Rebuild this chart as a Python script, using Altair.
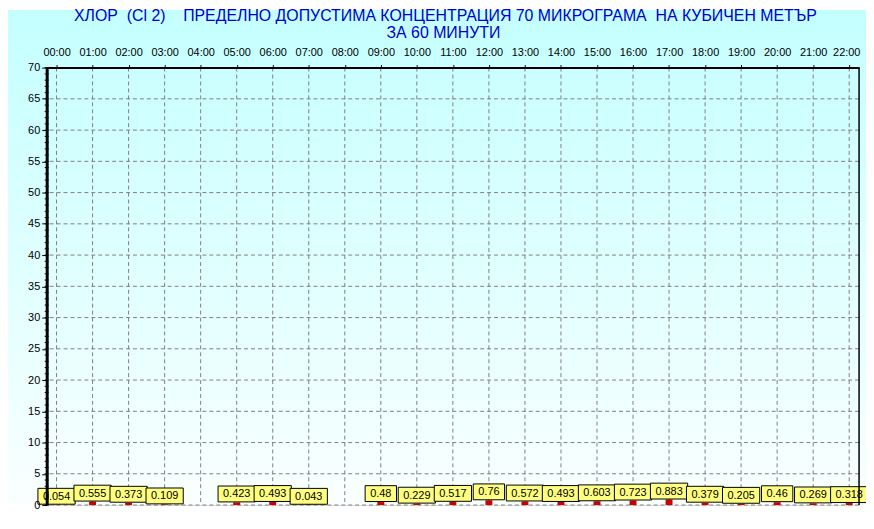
import json
import altair as alt
import pandas as pd

# ---- data ----
hour_labels = ["00:00", "01:00", "02:00", "03:00", "04:00", "05:00", "06:00", "07:00",
               "08:00", "09:00", "10:00", "11:00", "12:00", "13:00", "14:00", "15:00",
               "16:00", "17:00", "18:00", "19:00", "20:00", "21:00", "22:00"]
hours = list(range(len(hour_labels)))
values = [0.054, 0.555, 0.373, 0.109, None, 0.423, 0.493, 0.043, None, 0.48, 0.229,
          0.517, 0.76, 0.572, 0.493, 0.603, 0.723, 0.883, 0.379, 0.205, 0.46, 0.269, 0.318]
y_ticks = list(range(0, 71, 5))
minor_ticks = list(range(0, 71, 1))

title_line1 = "ХЛОР\u00a0\u00a0(Cl 2)\u00a0\u00a0\u00a0\u00a0ПРЕДЕЛНО ДОПУСТИМА КОНЦЕНТРАЦИЯ 70 МИКРОГРАМА\u00a0\u00a0НА КУБИЧЕН МЕТЪР"
title_line2 = "ЗА 60 МИНУТИ"

# ---- layout ----
W, H = 819, 441
XMIN, XMAX = -0.136, 22.136
YMIN, YMAX = 0, 70
PXH = W / (XMAX - XMIN)
PXV = H / (YMAX - YMIN)

rows = [{"hour": h, "value": v, "label": str(v)} for h, v in zip(hours, values) if v is not None]
df = pd.DataFrame(rows)

xscale = alt.Scale(domain=[XMIN, XMAX], nice=False, zero=False)
yscale = alt.Scale(domain=[YMIN, YMAX], nice=False)

label_expr = json.dumps(hour_labels) + "[datum.value]"
xaxis = alt.Axis(orient="top", values=hours, labelExpr=label_expr, title=None, grid=False,
                 tickSize=3, labelPadding=7, labelFontSize=11, labelColor="black",
                 domainColor="black", domainWidth=2, tickColor="black", zindex=1,
                 labelFont="Liberation Sans", labelFlush=False, labelOverlap=False,
                 labelOffset={"condition": {"test": f"datum.value == {hours[-1]}", "value": -3}, "value": 0})
yaxis = alt.Axis(values=y_ticks, format="d", title=None, grid=False, tickSize=5,
                 labelPadding=2, labelFontSize=11, labelColor="black",
                 domainColor="black", domainWidth=3, tickColor="black", zindex=1,
                 labelFont="Liberation Sans", labelOverlap=False)

one = alt.Data(values=[{"a": 1}])

bg = alt.Chart(one).mark_rect(
    color=alt.Gradient(gradient="linear",
                       stops=[alt.GradientStop(color="#C4FFFF", offset=0),
                              alt.GradientStop(color="#FAFFFF", offset=1)],
                       x1=0, x2=0, y1=0, y2=1)
).encode(x=alt.value(-39), x2=alt.value(W + 7), y=alt.value(-58), y2=alt.value(H))

title_font = "Liberation Sans, Arial, sans-serif"
t1 = alt.Chart(one).mark_text(text=title_line1, font=title_font, fontSize=16, color="#0000CC",
                              align="center", baseline="middle").encode(
    x=alt.value(402), y=alt.value(-52))
t2 = alt.Chart(one).mark_text(text=title_line2, font=title_font, fontSize=16, color="#0000CC",
                              align="center", baseline="middle").encode(
    x=alt.value(400), y=alt.value(-35))

base = alt.Chart(df)

xgrid = alt.Chart(pd.DataFrame({"hour": hours})).mark_rule(
    color="#808080", strokeDash=[4, 3], strokeWidth=1
).encode(x=alt.X("hour:Q", scale=xscale, axis=xaxis))

ygrid = alt.Chart(pd.DataFrame({"v": y_ticks})).mark_rule(
    color="#808080", strokeDash=[4, 3], strokeWidth=1
).encode(y=alt.Y("v:Q", scale=yscale, axis=yaxis))

bars = base.mark_bar(size=7, color="#CC0000").encode(
    x=alt.X("hour:Q", scale=xscale, axis=xaxis),
    y=alt.Y("value:Q", scale=yscale, axis=yaxis),
    y2=alt.datum(0),
)

boxes = base.transform_calculate(
    x_lo=f"datum.hour - (3*length(datum.label) + 4) / {PXH}",
    x_hi=f"datum.hour + (3*length(datum.label) + 4) / {PXH}",
    y_lo=f"datum.value + 0.5 / {PXV}",
    y_hi=f"datum.value + 16.5 / {PXV}",
).mark_rect(fill="#FFFF80", stroke="black", strokeWidth=1).encode(
    x=alt.X("x_lo:Q", scale=xscale, axis=xaxis),
    x2="x_hi:Q",
    y=alt.Y("y_lo:Q", scale=yscale, axis=yaxis),
    y2="y_hi:Q",
)

texts = base.mark_text(fontSize=11, font="Liberation Sans", color="black",
                       baseline="middle", align="center", dy=-8).encode(
    x=alt.X("hour:Q", scale=xscale, axis=xaxis),
    y=alt.Y("value:Q", scale=yscale, axis=yaxis),
    text="label:N",
)

right_border = alt.Chart(one).mark_rule(color="black", strokeWidth=1.5).encode(
    x=alt.value(W), y=alt.value(0), y2=alt.value(H))

minor = alt.Chart(pd.DataFrame({"m": minor_ticks})).mark_rule(
    color="black", strokeWidth=1).encode(
    y=alt.Y("m:Q", scale=yscale, axis=yaxis), x=alt.value(-2), x2=alt.value(2))

chart = alt.layer(bg, t1, t2, xgrid, ygrid, bars, boxes, texts, right_border, minor).properties(
    width=W, height=H,
    autosize=alt.AutoSizeParams(type="none"),
    padding={"left": 39, "top": 58, "right": 7, "bottom": 14},
).configure_view(stroke=None).configure(background="white")

chart.save("out.html", embed_options={"renderer": "svg", "actions": False})
